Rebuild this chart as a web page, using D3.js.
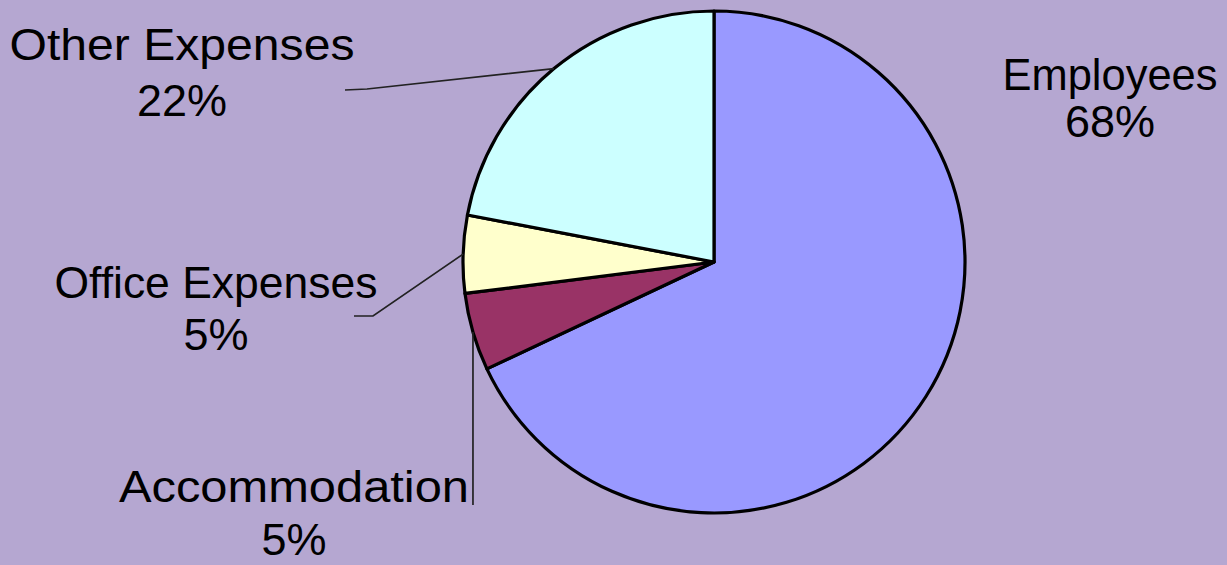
<!DOCTYPE html>
<html>
<head>
<meta charset="utf-8">
<script src="https://cdn.jsdelivr.net/npm/d3@7"></script>
<style>
  html, body { margin: 0; padding: 0; background: #b5a7d1; }
  svg { display: block; }
  text { font-family: "Liberation Sans", Arial, sans-serif; fill: #000; }
</style>
</head>
<body>
<svg id="chart" width="1227" height="565"></svg>
<script>
// ---- data ----
const categories = ["Employees", "Accommodation", "Office Expenses", "Other Expenses"];
const values = [68, 5, 5, 22];
const percentLabels = ["68%", "5%", "5%", "22%"];
const colors = ["#9999ff", "#993366", "#ffffcc", "#ccffff"];

// ---- layout (positions only) ----
const W = 1227, H = 565;
const cx = 714, cy = 262, R = 251;
const labelLayout = {
  "Employees":       { x: 1110, y1: 90,  y2: 137, w: 215, leader: null },
  "Accommodation":   { x: 294,  y1: 502, y2: 555, w: 350, leader: "vertical", endY: 505 },
  "Office Expenses": { x: 216,  y1: 298, y2: 350, w: 323, leader: [[373, 316], [354, 316]] },
  "Other Expenses":  { x: 182,  y1: 60,  y2: 116, w: 345, leader: [[367, 89], [345, 90]] }
};

const svg = d3.select("#chart");
svg.append("rect").attr("width", W).attr("height", H).attr("fill", "#b5a7d1");

const data = categories.map((c, i) => ({ name: c, value: values[i], pct: percentLabels[i], color: colors[i] }));
const pie = d3.pie().sort(null).value(d => d.value).startAngle(0).endAngle(2 * Math.PI);
const arcs = pie(data);
const arc = d3.arc().innerRadius(0).outerRadius(R);

const g = svg.append("g").attr("transform", `translate(${cx},${cy})`);

// leader lines (drawn beneath the pie)
const line = d3.line();
arcs.forEach(a => {
  const L = labelLayout[a.data.name];
  if (!L.leader) return;
  const mid = (a.startAngle + a.endAngle) / 2;
  const ex = cx + R * Math.sin(mid), ey = cy - R * Math.cos(mid);
  let pts;
  if (L.leader === "vertical") pts = [[ex, ey], [ex, L.endY]];
  else pts = [[ex, ey]].concat(L.leader);
  svg.append("path")
    .attr("d", line(pts))
    .attr("fill", "none")
    .attr("stroke", "#222")
    .attr("stroke-width", 1.7);
});

// slices
g.selectAll("path.slice")
  .data(arcs)
  .join("path")
  .attr("class", "slice")
  .attr("d", arc)
  .attr("fill", d => d.data.color)
  .attr("stroke", "#000")
  .attr("stroke-width", 3.2)
  .attr("stroke-linejoin", "round");

// labels
arcs.forEach(a => {
  const L = labelLayout[a.data.name];
  svg.append("text")
    .attr("x", L.x).attr("y", L.y1)
    .attr("text-anchor", "middle")
    .attr("font-size", 45)
    .attr("textLength", L.w)
    .attr("lengthAdjust", "spacingAndGlyphs")
    .text(a.data.name);
  svg.append("text")
    .attr("x", L.x).attr("y", L.y2)
    .attr("text-anchor", "middle")
    .attr("font-size", 45)
    .text(a.data.pct);
});
</script>
</body>
</html>
